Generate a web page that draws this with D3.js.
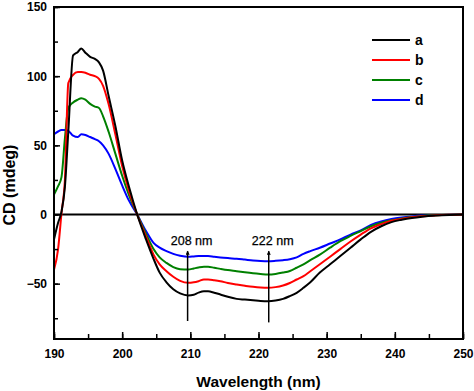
<!DOCTYPE html>
<html>
<head>
<meta charset="utf-8">
<script src="https://cdn.jsdelivr.net/npm/d3@7"></script>
<style>
  html, body { margin: 0; padding: 0; background: #fff; }
  svg { display: block; }
  text { font-family: Arial, "Liberation Sans", sans-serif; }
</style>
</head>
<body>
<svg id="chart" width="474" height="391"></svg>
<script>
// ---- data ----
const wavelength = [190,190.6,191.1,191.6,192.1,192.8,193.5,194,194.6,195.3,196,196.6,197.2,198,199,200,201,202.2,203.5,204.6,205.5,206.5,207.5,208.5,209.7,210.5,211.2,212,212.6,213.5,214.4,215.5,216.8,218,219.2,220.3,221.4,222.5,223.6,224.6,225.6,226.6,227.6,229,230.5,232,233.5,235,236.5,238,239.5,241,242.5,244,246,248,250];
const seriesA = [-18,-6,2,20,60,115,117.5,120,117,114,112.5,110,104,86,64,39,20,0,-18,-32,-42,-49,-54,-57,-58.5,-58,-56.5,-55.5,-55.5,-56.5,-57.8,-59.5,-61,-61.5,-62,-62.5,-62.7,-62.2,-61,-59,-56.6,-53,-49,-42,-36,-30,-24,-18,-12.5,-8.5,-5.5,-3.8,-2.5,-1.6,-0.8,-0.3,0];
const seriesB = [-40,-25,1,25,95,101,103,103,102.5,101,100,98,93,80,58,35,17,0,-16,-29,-36,-41,-45,-48,-49.4,-49,-48.2,-47,-47,-47.5,-48.2,-49.5,-50.6,-51.5,-52.3,-52.8,-53,-52.5,-51.3,-49.5,-47,-44.6,-41,-36,-30.5,-25,-19.5,-14.5,-10,-7,-4.5,-3.2,-2,-1.2,-0.6,-0.2,0];
const seriesC = [14.5,20.5,27,55,77,81,83,84,83,80,78,77,71,60,44,28,14,0,-14,-25,-31,-35,-38,-39.5,-39.8,-39,-38.3,-37.8,-37.8,-38.5,-39.3,-40.2,-41,-41.8,-42.5,-43,-43.4,-43,-42,-40.8,-38.5,-36,-33,-29,-24,-19.3,-15.5,-12,-8.5,-6,-4.2,-2.8,-1.8,-1,-0.5,-0.2,0];
const seriesD = [58,60,61,61,60.5,57,56,58,57.5,56,54.5,53,50,44,33,21,10,0,-12,-20.5,-24,-26.5,-28.5,-29.8,-30.6,-30.3,-30,-30,-30,-30.5,-31,-31.5,-32,-32.6,-33.2,-33.6,-33.8,-33.5,-33,-32.3,-31,-28.5,-26.5,-24,-21,-18,-14.5,-11.5,-7.5,-5,-3.3,-2.2,-1.4,-0.8,-0.4,-0.1,0];
const seriesNames = ["a","b","c","d"];
const seriesColors = ["#000000","#ff0000","#008000","#0000ff"];
const xTicks = [190,200,210,220,230,240,250];
const yTicks = [-50,0,50,100,150];
const annotations = [{label:"208 nm", x:209.6, y1:-26.5, y2:-77}, {label:"222 nm", x:221.5, y1:-26.5, y2:-78}];

// ---- layout ----
const svg = d3.select("#chart");
const L = 54, R = 463, T = 7, B = 339;
const x = d3.scaleLinear().domain([190, 250]).range([L, R]);
const y = d3.scaleLinear().domain([-90, 150]).range([B, T]);

const allSeries = [seriesA, seriesB, seriesC, seriesD];

const defs = svg.append("defs");
defs.append("clipPath").attr("id","clip").append("rect")
  .attr("x", L).attr("y", T).attr("width", R-L).attr("height", B-T);
defs.append("marker").attr("id","arrow").attr("viewBox","0 0 10 10")
  .attr("refX",5).attr("refY",1).attr("markerWidth",4).attr("markerHeight",5)
  .attr("markerUnits","userSpaceOnUse").attr("orient","0")
  .append("path").attr("d","M0,10 L5,0 L10,10 Z").attr("fill","#000");

// zero line
svg.append("line").attr("x1", L).attr("x2", R).attr("y1", y(0)).attr("y2", y(0))
  .attr("stroke","#000").attr("stroke-width",2);

// curves
const line = d3.line().x((d,i)=>x(wavelength[i])).y(d=>y(d)).curve(d3.curveMonotoneX);
const g = svg.append("g").attr("clip-path","url(#clip)");
[3,2,1,0].forEach(k => {
  g.append("path").datum(allSeries[k]).attr("d", line)
    .attr("fill","none").attr("stroke", seriesColors[k]).attr("stroke-width",2)
    .attr("stroke-linejoin","round");
});

// axes
const fmt = d3.format("d");
const xMinor = d3.range(190, 251, 5);
const yMinor = d3.range(-75, 151, 25);
svg.append("g").attr("transform",`translate(0,${B})`)
  .call(d3.axisBottom(x).tickValues(xMinor).tickSize(-5).tickFormat(""))
  .call(s => s.select(".domain").remove())
  .call(s => s.selectAll("line").attr("stroke-width",1.5));
const xa = svg.append("g").attr("transform",`translate(0,${B})`)
  .call(d3.axisBottom(x).tickValues(xTicks).tickSize(-7).tickPadding(10).tickFormat(fmt))
  .call(s => s.select(".domain").remove());
xa.selectAll("line").attr("stroke-width",1.5);
xa.selectAll("text").attr("font-size","12px").attr("font-weight","bold").attr("fill","#000");

svg.append("g").attr("transform",`translate(${L},0)`)
  .call(d3.axisLeft(y).tickValues(yMinor).tickSize(-4).tickFormat(""))
  .call(s => s.select(".domain").remove())
  .call(s => s.selectAll("line").attr("stroke-width",1.5));
const ya = svg.append("g").attr("transform",`translate(${L},0)`)
  .call(d3.axisLeft(y).tickValues(yTicks).tickSize(-6).tickPadding(7).tickFormat(fmt))
  .call(s => s.select(".domain").remove());
ya.selectAll("line").attr("stroke-width",1.5);
ya.selectAll("text").attr("font-size","12px").attr("font-weight","bold").attr("fill","#000");

// frame
svg.append("rect").attr("x", L).attr("y", T).attr("width", R-L).attr("height", B-T)
  .attr("fill","none").attr("stroke","#000").attr("stroke-width",2);

// axis titles
svg.append("text").attr("x", (L+R)/2).attr("y", 387).attr("text-anchor","middle")
  .attr("font-size","15.5px").attr("font-weight","bold").text("Wavelength (nm)");
svg.append("text").attr("transform","translate(15,185) rotate(-90)").attr("text-anchor","middle")
  .attr("font-size","16px").attr("font-weight","bold").text("CD (mdeg)");

// annotations
annotations.forEach(a => {
  svg.append("line").attr("x1", x(a.x)).attr("x2", x(a.x)).attr("y1", y(a.y2)).attr("y2", y(a.y1))
    .attr("stroke","#000").attr("stroke-width",1.5).attr("marker-end","url(#arrow)");
  svg.append("text").attr("x", x(a.x)+4).attr("y", y(a.y1)-6).attr("text-anchor","middle")
    .attr("font-size","12.5px").attr("stroke","#000").attr("stroke-width",0.25).text(a.label);
});

// legend
seriesNames.forEach((n,i) => {
  const ly = 40 + i*20;
  svg.append("line").attr("x1",372).attr("x2",410).attr("y1",ly).attr("y2",ly)
    .attr("stroke", seriesColors[i]).attr("stroke-width",2);
  svg.append("text").attr("x",415).attr("y",ly+5).attr("font-size","14px").attr("font-weight","bold").text(n);
});
</script>
</body>
</html>
